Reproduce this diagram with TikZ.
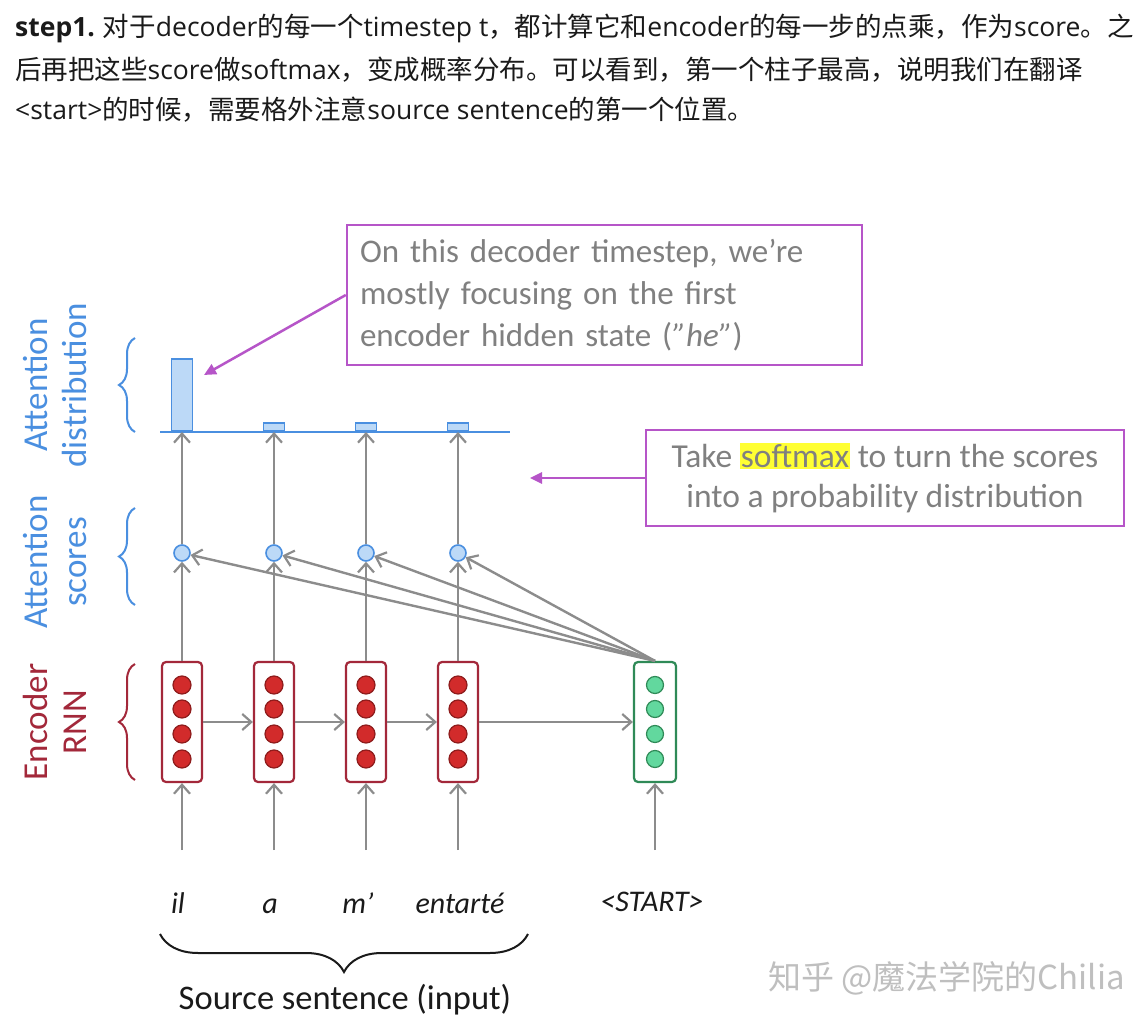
\documentclass[tikz,border=0pt]{standalone}
\usepackage{fontspec}
\setmainfont{Carlito}
\newfontfamily\cjk{Noto Sans CJK SC}
\newfontfamily\latf{Open Sans}
\newcommand\la[1]{{\latf #1}}
\usetikzlibrary{arrows.meta,decorations.pathreplacing,calc}
\definecolor{encred}{HTML}{A3283A}
\definecolor{dotred}{HTML}{D22B2B}
\definecolor{dotredd}{HTML}{8E1C1C}
\definecolor{decgreen}{HTML}{2F8A57}
\definecolor{dotgreen}{HTML}{62D89E}
\definecolor{attblue}{HTML}{4A8FE0}
\definecolor{lightblue}{HTML}{BCD9F7}
\definecolor{arrgray}{HTML}{8C8C8C}
\definecolor{callmag}{HTML}{B655C8}
\definecolor{calltext}{HTML}{808080}
\definecolor{titletext}{HTML}{1A1A1A}
\definecolor{hl}{HTML}{FFFF33}
\begin{document}
\begin{tikzpicture}[x=1pt,y=-1pt,
  arr/.style={draw=arrgray,line width=2.4pt,-{Straight Barb[length=9pt,width=16pt,line width=2.2pt]}},
  magarr/.style={draw=callmag,line width=2.5pt,-{Triangle[length=12pt,width=11pt]}},
  encbox/.style={draw=encred,line width=2.2pt,rounded corners=4pt,fill=white,minimum width=40pt,minimum height=120pt,inner sep=0pt},
  decbox/.style={draw=decgreen,line width=2.2pt,rounded corners=4pt,fill=white,minimum width=42pt,minimum height=120pt,inner sep=0pt},
  rdot/.style={circle,fill=dotred,draw=dotredd,line width=1.2pt,minimum size=18pt,inner sep=0pt},
  gdot/.style={circle,fill=dotgreen,draw=decgreen,line width=1.2pt,minimum size=17pt,inner sep=0pt},
  score/.style={circle,fill=lightblue,draw=attblue,line width=1.6pt,minimum size=16pt,inner sep=0pt},
  bar/.style={rectangle,anchor=south,fill=lightblue,draw=attblue,line width=1.6pt,minimum width=21pt,inner sep=0pt},
  sidelabel/.style={rotate=90,align=center,font=\fontsize{35}{39}\selectfont},
  word/.style={anchor=base,font=\fontsize{30}{32}\selectfont\itshape,text=titletext},
  callout/.style={draw=callmag,line width=2.5pt,text=calltext,inner sep=0pt},
  sidebrace/.style={decorate,decoration={brace,amplitude=16pt},line width=2pt},
  title/.style={anchor=west,inner sep=0pt,text=titletext,font=\cjk\fontsize{26.5}{30}\selectfont}
]
\useasboundingbox (0,0) rectangle (1144,1024);
\fill[white] (0,0) rectangle (1144,1024);

% title
\node[title] (t1) at (15,28) {\la{\textbf{step1.}} 对于\la{decoder}的每一个\la{timestep t}，都计算它和\la{encoder}的每一步的点乘，作为\la{score}。之};
\node[title] (t2) at (15,70) {后再把这些\la{score}做\la{softmax}，变成概率分布。可以看到，第一个柱子最高，说明我们在翻译};
\node[title] (t3) at (15,110) {\la{<start>}的时候，需要格外注意\la{source sentence}的第一个位置。};

% side labels
\node[sidelabel,text=attblue] (ladist) at (55,385) {Attention\\distribution};
\node[sidelabel,text=attblue] (lascore) at (55,562) {Attention\\scores};
\node[sidelabel,text=encred] (laenc) at (55,722) {Encoder\\RNN};
\draw[sidebrace,draw=attblue] (135,432) -- (135,338);
\draw[sidebrace,draw=attblue] (135,605) -- (135,508);
\draw[sidebrace,draw=encred] (135,780) -- (135,664);

% encoder boxes
\foreach \i/\x in {1/182,2/274,3/366,4/458}{
  \node[encbox] (e\i) at (\x,722) {};
  \foreach \j/\dy in {1/-37,2/-13,3/12,4/37}{
    \node[rdot] (e\i d\j) at (\x,722+\dy) {};
  }
}
\node[decbox] (d) at (655,722) {};
\foreach \j/\dy in {1/-37,2/-13,3/12,4/37}{
  \node[gdot] (dd\j) at (655,722+\dy) {};
}

% horizontal encoder arrows
\draw[arr] (e1.east) -- (e2.west);
\draw[arr] (e2.east) -- (e3.west);
\draw[arr] (e3.east) -- (e4.west);
\draw[arr] (e4.east) -- (d.west);

% words
\node[word] (w1) at (178,913) {il};
\node[word] (w2) at (270,913) {a};
\node[word] (w3) at (358,913) {m’};
\node[word] (w4) at (460,913) {entarté};
\node[word] (w5) at (652,911) {<START>};
\foreach \i/\x in {1/182,2/274,3/366,4/458}{
  \coordinate (in\i) at (\x,850);
  \draw[arr] (in\i) -- (e\i.south);
}
\coordinate (in5) at (655,850);
\draw[arr] (in5) -- (d.south);

% bottom brace
\draw[decorate,decoration={brace,amplitude=38pt},line width=2pt,draw=titletext] (528,934) -- (160,934);
\node[font=\fontsize{34.5}{36}\selectfont,text=titletext] (src) at (345,1000) {Source sentence (input)};

% attention scores
\foreach \i/\x in {1/182,2/274,3/366,4/458}{
  \node[score] (s\i) at (\x,553) {};
}
\foreach \i in {1,2,3,4}{
  \draw[arr] (e\i.north) -- (s\i);
}
\foreach \i in {4,3,2,1}{
  \draw[arr] (d.north) -- (s\i);
}

% distribution
\coordinate (bl) at (160,432);
\coordinate (br) at (510,432);
\node[bar,minimum height=72pt] (b1) at (182,432) {};
\node[bar,minimum height=8pt] (b2) at (274,432) {};
\node[bar,minimum height=8pt] (b3) at (366,432) {};
\node[bar,minimum height=8pt] (b4) at (458,432) {};
\draw[attblue,line width=2.2pt] (bl) -- (br);
\foreach \i in {1,2,3,4}{
  \draw[arr] (s\i) -- (b\i.south);
}

% callout 1
\node[callout,minimum width=515pt,minimum height=140pt,text width=489pt,align=left,
  font=\fontsize{33}{42}\selectfont] (c1) at (604.5,295)
  {On this decoder timestep, we’re\\mostly focusing on the first\\encoder hidden state (\textit{”he”})};
\coordinate (tip1) at (204,375);
\draw[magarr] (c1.west) -- (tip1);

% callout 2
\node[callout,minimum width=478pt,minimum height=96pt,align=center,
  font=\fontsize{33.5}{40}\selectfont] (c2) at (885,478)
  {Take {\setlength{\fboxsep}{1pt}\colorbox{hl}{softmax}} to turn the scores\\into a probability distribution};
\coordinate (tip2) at (530,478);
\draw[magarr] (c2.west) -- (tip2);

% watermark
\node[anchor=east,inner sep=0pt,text=black!25,font=\cjk\fontsize{33}{36}\selectfont] (wm) at (1125,978) {知乎 @魔法学院的Chilia};
\end{tikzpicture}
\end{document}
